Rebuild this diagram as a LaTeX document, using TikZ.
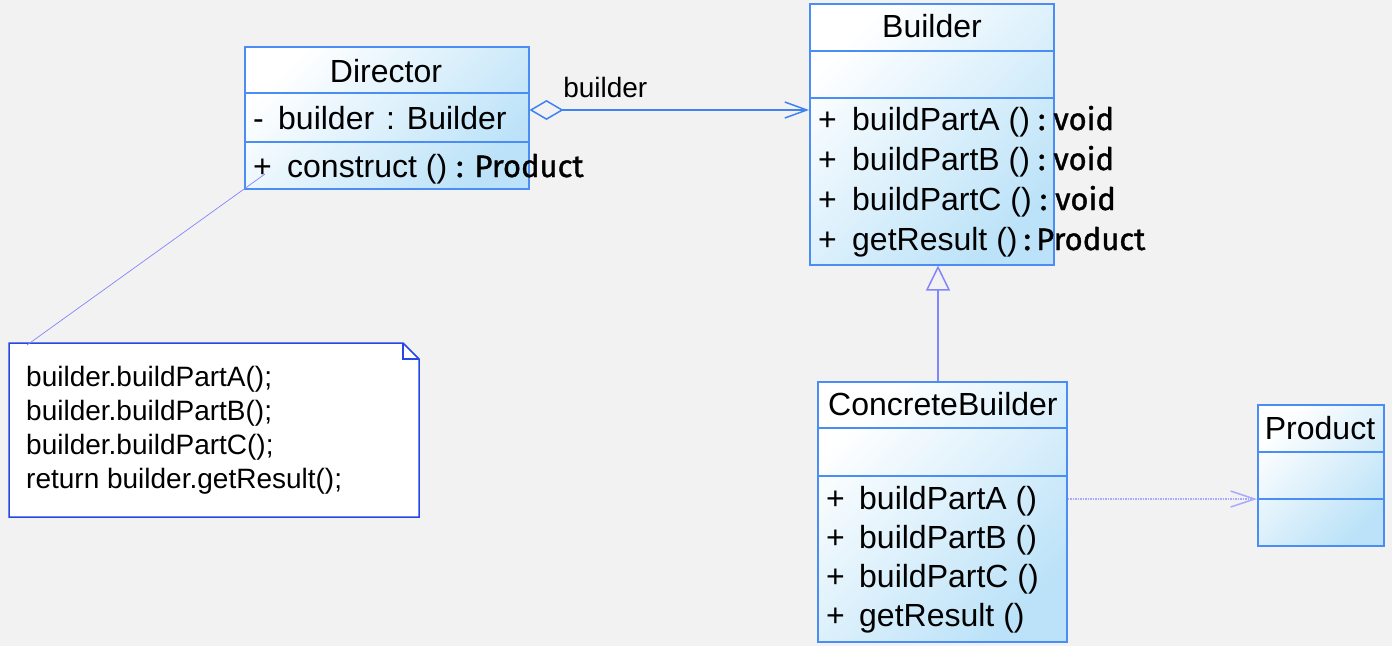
\documentclass[tikz,border=0pt]{standalone}
\usepackage{fontspec}
\setmainfont{Liberation Sans}
\newfontfamily\typefont{Fira Sans}[FakeBold=1.2]
\usetikzlibrary{arrows.meta}
\definecolor{bggray}{HTML}{F2F2F2}
\definecolor{clsborder}{HTML}{4A8DF5}
\definecolor{clsfill}{HTML}{BBE2F8}
\definecolor{assocblue}{HTML}{3F82F2}
\definecolor{linkblue}{HTML}{8484FF}
\definecolor{noteborder}{HTML}{2447E6}

\tikzset{
    classbox/.style={draw=clsborder, line width=1.5pt, top color=white, bottom color=clsfill,
        shading angle=45, inner sep=0pt, anchor=north west},
    divider/.style={draw=clsborder, line width=1.5pt},
    title/.style={anchor=base, inner sep=0pt, font=\fontsize{32}{38}\selectfont},
    member/.style={anchor=base west, inner sep=0pt, font=\fontsize{32}{38}\selectfont},
    notetext/.style={anchor=north west, inner sep=0pt, align=left, font=\fontsize{28}{34}\selectfont},
}
\newcommand{\vis}[1]{\makebox[34pt][l]{#1}}
\newcommand{\rtype}[1]{{\typefont\fontsize{31}{36}\selectfont #1}}

\begin{document}
\begin{tikzpicture}[x=1pt, y=-1pt]
    \fill[bggray] (0,0) rectangle (1392,646);
    \useasboundingbox (0,0) rectangle (1392,646);

    % classes
    \node[classbox, minimum width=284pt, minimum height=142pt] (director) at (244,46) {};
    \draw[divider] (director.west |- 0,93) -- (director.east |- 0,93);
    \draw[divider] (director.west |- 0,142) -- (director.east |- 0,142);
    \node[title] (directorname) at (386,82) {Director};
    \node[member] (directorattr) at (253,129) {\makebox[25pt][l]{-}builder\hspace{12pt}: Builder};
    \node[member] (directorop) at (253,177) {\vis{+}construct () \rtype{: Product}};

    \node[classbox, minimum width=244pt, minimum height=261pt] (builder) at (809,3) {};
    \draw[divider] (builder.west |- 0,51) -- (builder.east |- 0,51);
    \draw[divider] (builder.west |- 0,98) -- (builder.east |- 0,98);
    \node[title] (buildername) at (932,37) {Builder};
    \node[member] (builderopa) at (818,130) {\vis{+}buildPartA ()\hspace{8pt}\rtype{:\hspace{8pt}void}};
    \node[member] (builderopb) at (818,170) {\vis{+}buildPartB ()\hspace{8pt}\rtype{:\hspace{8pt}void}};
    \node[member] (builderopc) at (818,210) {\vis{+}buildPartC ()\hspace{8pt}\rtype{:\hspace{8pt}void}};
    \node[member] (builderres) at (818,250) {\vis{+}getResult ()\hspace{6pt}\rtype{:\,Product}};

    \node[classbox, minimum width=249pt, minimum height=260pt] (concrete) at (817,381) {};
    \draw[divider] (concrete.west |- 0,428) -- (concrete.east |- 0,428);
    \draw[divider] (concrete.west |- 0,476) -- (concrete.east |- 0,476);
    \node[member] (concretename) at (828,415) {ConcreteBuilder};
    \node[member] (concreteopa) at (826,509) {\makebox[33pt][l]{+}buildPartA ()};
    \node[member] (concreteopb) at (826,548) {\makebox[33pt][l]{+}buildPartB ()};
    \node[member] (concreteopc) at (826,587) {\makebox[33pt][l]{+}buildPartC ()};
    \node[member] (concreteres) at (826,626) {\makebox[33pt][l]{+}getResult ()};

    \node[classbox, minimum width=126pt, minimum height=141pt] (product) at (1257,404) {};
    \draw[divider] (product.west |- 0,452) -- (product.east |- 0,452);
    \draw[divider] (product.west |- 0,499) -- (product.east |- 0,499);
    \node[title] (productname) at (1320,439) {Product};

    % note
    \coordinate (notetip) at (27,345);
    \draw[noteborder, line width=1.5pt, fill=white]
        (9,343) -- (403,343) -- (419,359) -- (419,517) -- (9,517) -- cycle;
    \draw[noteborder, line width=1.5pt] (403,343) -- (403,359) -- (419,359);
    \node[notetext] (note) at (26,366) {builder.buildPartA();\\builder.buildPartB();\\builder.buildPartC();\\return builder.getResult();};

    % connectors
    \coordinate (aggy) at (0,110);
    \coordinate (genx) at (938,0);
    \coordinate (depy) at (0,499);
    \coordinate (notefoot) at (265,174);
    \draw[assocblue, line width=1.5pt, {Diamond[open, length=34pt, width=20pt]}-{Straight Barb[length=22pt, width=16pt]}]
        (director.east |- aggy) -- (builder.west |- aggy)
        node[pos=0, anchor=base west, text=black, inner sep=0pt, xshift=33pt, yshift=13pt,
             font=\fontsize{28}{34}\selectfont] (rolename) {builder};
    \draw[linkblue, line width=1.5pt, -{Triangle[open, length=25pt, width=24pt]}]
        (concrete.north -| genx) -- (builder.south -| genx);
    \draw[linkblue!70, line width=1.5pt, dash pattern=on 1.5pt off 1pt, -{Straight Barb[length=24pt, width=16pt]}]
        (concrete.east |- depy) -- (product.west |- depy);
    \draw[linkblue, line width=0.7pt] (notefoot) -- (notetip);
\end{tikzpicture}
\end{document}
